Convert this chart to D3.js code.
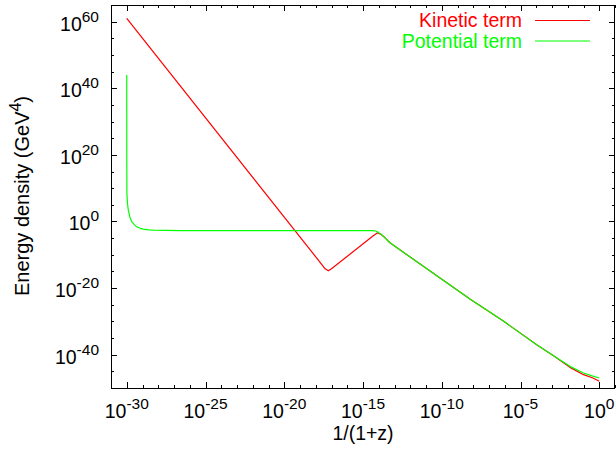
<!DOCTYPE html>
<html>
<head>
<meta charset="utf-8">
<script src="https://cdn.jsdelivr.net/npm/d3@7"></script>
<style>
  body { margin: 0; background: #fff; }
  text { font-family: "Liberation Sans", Arial, Helvetica, sans-serif; }
</style>
</head>
<body>
<svg id="chart" width="616" height="454"></svg>
<script>
// Exponents (log10) of the scale factor a = 1/(1+z) and of the energy density in GeV^4
const kineticLogA     = [-30, -17.4, -17.2, -17.0, -14.35, -14.1, -13.9, -13.6, -13.29, -8.21, -6.09, -3.97, -2.9, -1.86, -1.0, -0.4, 0];
const kineticLogRho   = [61.0, -14.2, -14.8, -14.2, -4.3, -3.45, -3.7, -4.9, -6.4, -23.3, -29.9, -37.0, -40.3, -43.8, -46.0, -47.0, -48.0];

const potentialLogA   = [-30, -29.997, -29.99, -29.95, -29.9, -29.8, -29.68, -29.5, -29.37, -29.15, -28.95, -28.6, -28.31, -27.5, -26.6, -14.35, -14.2, -14.05, -13.9, -13.6, -13.29, -8.21, -6.09, -3.97, -2.9, -1.86, -1.0, -0.5, 0];
const potentialLogRho = [44.0, 20.0, 8.4, 5.2, 3.4, 1.3, -0.1, -1.0, -1.6, -2.05, -2.3, -2.5, -2.6, -2.68, -2.72, -2.75, -2.85, -3.2, -3.65, -4.9, -6.4, -23.3, -29.9, -37.0, -40.3, -43.5, -45.5, -46.3, -47.0];

// Axis extents and tick exponents
const xDomainExp   = [-31, 1];
const yDomainExp   = [-50, 65];
const xMajorExp    = [-30, -25, -20, -15, -10, -5, 0];
const xMinorExp    = d3.range(-31, 2, 1);
const yMajorExp    = [-40, -20, 0, 20, 40, 60];
const yMinorExp    = d3.range(-50, 66, 5);

const seriesNames  = ["Kinetic term", "Potential term"];
const seriesColors = ["#ff0000", "#00ff00"];

const plot = { left: 111, top: 5, right: 615, bottom: 388 };

const svg = d3.select("#chart");

const x = d3.scaleLog()
  .domain(xDomainExp.map(e => Math.pow(10, e)))
  .range([plot.left, plot.right]);
const y = d3.scaleLog()
  .domain(yDomainExp.map(e => Math.pow(10, e)))
  .range([plot.bottom, plot.top]);

const pow10 = e => Math.pow(10, e);

// Inward ticks on all four sides (major long, minor short)
function addAxis(axisGen, transform, values, size) {
  const g = svg.append("g")
    .attr("transform", transform)
    .call(axisGen.tickValues(values.map(pow10)).tickSize(-size).tickSizeOuter(0).tickFormat(""));
  g.select(".domain").remove();
  g.selectAll(".tick line").attr("stroke", "#000").attr("shape-rendering", "crispEdges");
  return g;
}
addAxis(d3.axisBottom(x), `translate(0,${plot.bottom})`, xMinorExp, 3);
addAxis(d3.axisBottom(x), `translate(0,${plot.bottom})`, xMajorExp, 6);
addAxis(d3.axisTop(x),    `translate(0,${plot.top})`,    xMinorExp, 3);
addAxis(d3.axisTop(x),    `translate(0,${plot.top})`,    xMajorExp, 6);
addAxis(d3.axisLeft(y),   `translate(${plot.left},0)`,   yMinorExp, 3);
addAxis(d3.axisLeft(y),   `translate(${plot.left},0)`,   yMajorExp, 6);
addAxis(d3.axisRight(y),  `translate(${plot.right},0)`,  yMinorExp, 3);
addAxis(d3.axisRight(y),  `translate(${plot.right},0)`,  yMajorExp, 6);

// Frame
svg.append("rect")
  .attr("x", plot.left + 0.5).attr("y", plot.top + 0.5)
  .attr("width", plot.right - plot.left - 1).attr("height", plot.bottom - plot.top)
  .attr("fill", "none").attr("stroke", "#000").attr("stroke-width", 1)
  .attr("shape-rendering", "crispEdges");

// Power-of-ten tick labels
function powerLabel(sel, exp) {
  sel.append("tspan").text("10");
  sel.append("tspan").attr("dy", -9).attr("font-size", "15.5px").text(String(exp));
}
svg.append("g").selectAll("text").data(xMajorExp).join("text")
  .attr("x", d => x(pow10(d)))
  .attr("y", plot.bottom + 30)
  .attr("text-anchor", "middle")
  .attr("font-size", "19.5px")
  .attr("fill", "#000")
  .each(function (d) { powerLabel(d3.select(this), d); });

svg.append("g").selectAll("text").data(yMajorExp).join("text")
  .attr("x", 99)
  .attr("y", d => y(pow10(d)) + 9)
  .attr("text-anchor", "end")
  .attr("font-size", "19.5px")
  .attr("fill", "#000")
  .each(function (d) { powerLabel(d3.select(this), d); });

// Axis titles
svg.append("text")
  .attr("x", (plot.left + plot.right) / 2)
  .attr("y", 440)
  .attr("text-anchor", "middle")
  .attr("font-size", "19.5px")
  .text("1/(1+z)");

const yTitle = svg.append("text")
  .attr("transform", `translate(29,196) rotate(-90)`)
  .attr("text-anchor", "middle")
  .attr("font-size", "20px");
yTitle.append("tspan").text("Energy density (GeV");
yTitle.append("tspan").attr("dy", -8).attr("font-size", "16px").text("4");
yTitle.append("tspan").attr("dy", 8).text(")");

// Curves (straight segments between sampled points)
const line = d3.line()
  .x(d => x(pow10(d[0])))
  .y(d => y(pow10(d[1])))
  .curve(d3.curveLinear);

const series = [
  d3.zip(kineticLogA, kineticLogRho),
  d3.zip(potentialLogA, potentialLogRho)
];

svg.append("defs").append("clipPath").attr("id", "plot-clip")
  .append("rect")
  .attr("x", plot.left).attr("y", plot.top)
  .attr("width", plot.right - plot.left).attr("height", plot.bottom - plot.top);

const curves = svg.append("g").attr("clip-path", "url(#plot-clip)");
// kinetic first, potential drawn over it where the two coincide
[0, 1].forEach(i => {
  curves.append("path")
    .datum(series[i])
    .attr("d", line)
    .attr("fill", "none")
    .attr("stroke", seriesColors[i])
    .attr("stroke-width", 1.2)
    .attr("stroke-linejoin", "round");
});

// Legend
const legend = svg.append("g");
seriesNames.forEach((name, i) => {
  const yy = 27 + i * 20.5;
  legend.append("text")
    .attr("x", 522).attr("y", yy)
    .attr("text-anchor", "end")
    .attr("font-size", "19.5px")
    .attr("fill", seriesColors[i])
    .text(name);
  legend.append("line")
    .attr("x1", 535).attr("x2", 590)
    .attr("y1", yy - 6.5).attr("y2", yy - 6.5)
    .attr("stroke", seriesColors[i])
    .attr("stroke-width", 1.2);
});
</script>
</body>
</html>
